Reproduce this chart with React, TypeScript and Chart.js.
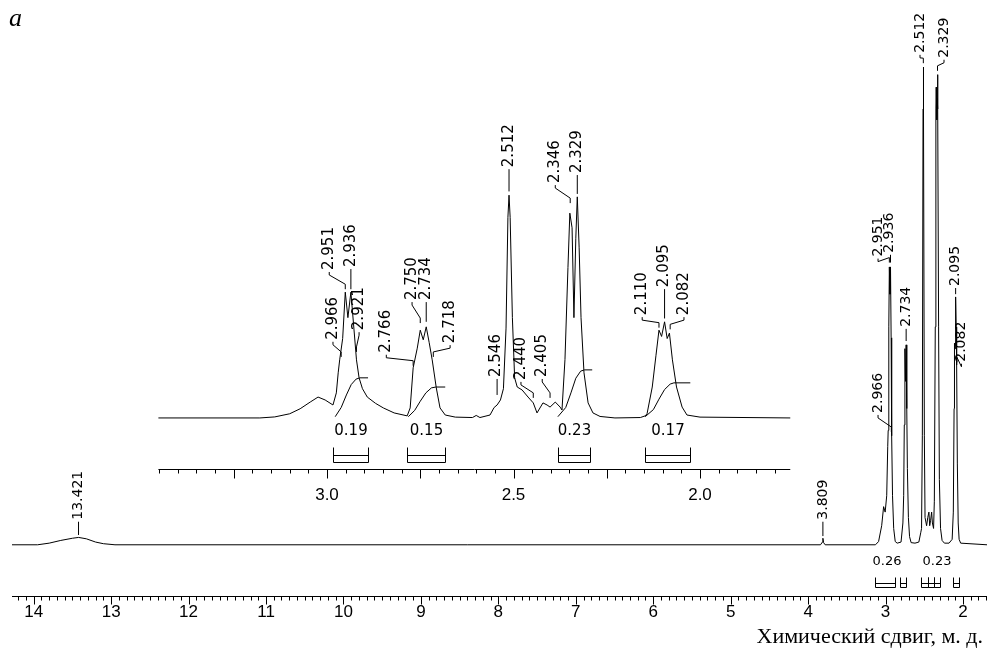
import React, { useEffect, useRef } from 'react';
import { Chart, registerables } from 'chart.js';

Chart.register(...registerables);

// ---------- main spectrum (ppm, relative intensity) ----------
const mainPpm = [14.28, 13.95, 13.8, 13.65, 13.5, 13.42, 13.32, 13.2, 13.1, 12.95,
  3.84, 3.815, 3.809, 3.8, 3.78,
  3.13, 3.09, 3.05, 3.025, 3.005, 2.985, 2.972, 2.966, 2.958, 2.951, 2.943, 2.936, 2.928, 2.921, 2.91, 2.895, 2.875, 2.85,
  2.8, 2.776, 2.766, 2.758, 2.75, 2.742, 2.734, 2.726, 2.718, 2.705, 2.69, 2.67, 2.62,
  2.57, 2.546, 2.535, 2.525, 2.516, 2.512, 2.508, 2.499, 2.49, 2.47, 2.455, 2.44, 2.43, 2.418, 2.405, 2.395, 2.38,
  2.37, 2.358, 2.35, 2.346, 2.338, 2.333, 2.329, 2.324, 2.315, 2.305, 2.29, 2.27, 2.24, 2.18,
  2.14, 2.125, 2.115, 2.11, 2.103, 2.095, 2.088, 2.082, 2.073, 2.062, 2.05, 2.03, 1.69];
const mainInt = [0, 0, 0.3, 0.8, 1.2, 1.35, 1.1, 0.5, 0.2, 0,
  0, 0.5, 1.2, 0.4, 0,
  0, 0.6, 3.5, 7, 6, 9, 18, 21, 40, 51, 46, 51, 38, 20, 9, 3, 0.6, 0.3,
  0.5, 4, 9, 22, 36, 30, 36.7, 25, 14, 5, 1.5, 0.4, 0.3,
  0.5, 2.2, 3, 20, 80, 87.7, 80, 20, 5, 3.5, 5, 6, 3.5, 4.5, 6, 4, 3,
  8, 40, 80, 84, 78, 82, 86.3, 80, 40, 12, 3, 0.8, 0.3, 0.3,
  1, 6, 25, 37, 36, 45.5, 40, 33, 15, 4, 1, 0.3, 0];

// ---------- expanded inset spectrum ----------
const insetPpm = [3.452, 3.18, 3.14, 3.1, 3.072, 3.045, 3.024, 3.005, 2.984, 2.975, 2.97, 2.966, 2.958, 2.951, 2.944, 2.936, 2.928, 2.921, 2.914, 2.905, 2.892, 2.87, 2.849, 2.82, 2.785,
  2.777, 2.769, 2.758, 2.75, 2.742, 2.734, 2.726, 2.718, 2.707, 2.697, 2.683, 2.656, 2.61, 2.6, 2.59,
  2.563, 2.552, 2.544, 2.535, 2.527, 2.52, 2.515, 2.512, 2.509, 2.503, 2.497, 2.49, 2.477, 2.461, 2.447, 2.437, 2.421, 2.41, 2.402, 2.388, 2.375,
  2.37, 2.362, 2.354, 2.349, 2.343, 2.338, 2.333, 2.329, 2.324, 2.319, 2.311, 2.3, 2.287, 2.268, 2.228, 2.16,
  2.147, 2.142, 2.128, 2.118, 2.11, 2.103, 2.095, 2.088, 2.082, 2.074, 2.063, 2.048, 2.035, 2.0, 1.758];
const insetInt = [0, 0, 0.25, 1, 2.2, 3.8, 5, 4.3, 3.1, 6, 10.8, 13.9, 19, 30.1, 24, 30.1, 21.5, 13.9, 9.6, 7, 5, 3.5, 2.4, 1.2, 0.5,
  2.4, 12, 16.7, 21, 18.7, 21.8, 18, 13.9, 7.2, 2.4, 0.7, 0.2, 0.1, 0.6, 0.1,
  0.7, 2.5, 3.1, 4.3, 7, 21.5, 48, 53.3, 48, 24, 9.6, 7.4, 6.7, 5, 3.6, 1.2, 3.6, 3.1, 2.6, 3.8, 2.6,
  1.9, 14, 36, 49, 45.5, 24, 43, 52.9, 40.7, 24, 10.8, 3.6, 1.2, 0.36, 0, 0.1,
  0.5, 1, 7.4, 15, 21, 19.5, 23, 19, 20.3, 13.9, 7.4, 2.6, 0.7, 0.2, 0];

// ---------- integral curves in the inset ----------
const integral1Ppm = [2.978, 2.962, 2.948, 2.935, 2.922, 2.912, 2.89];
const integral1Val = [0.3, 2.5, 5.5, 8, 9.3, 9.6, 9.6];
const integral2Ppm = [2.782, 2.765, 2.75, 2.735, 2.72, 2.708, 2.683];
const integral2Val = [0.3, 1.8, 4, 6, 7.2, 7.4, 7.4];
const integral3Ppm = [2.381, 2.36, 2.346, 2.333, 2.32, 2.31, 2.289];
const integral3Val = [0.3, 2.5, 6, 9.5, 11.2, 11.5, 11.5];
const integral4Ppm = [2.147, 2.125, 2.11, 2.095, 2.08, 2.07, 2.026];
const integral4Val = [0.3, 2.0, 4.5, 6.8, 8.1, 8.4, 8.4];

// ---------- peak labels ----------
const insetLabelText = ['2.966', '2.951', '2.936', '2.921', '2.766', '2.750', '2.734', '2.718', '2.546', '2.512', '2.440', '2.405', '2.346', '2.329', '2.110', '2.095', '2.082'];
const insetLabelPeak = [2.962, 2.951, 2.936, 2.921, 2.769, 2.75, 2.734, 2.715, 2.544, 2.512, 2.447, 2.402, 2.348, 2.329, 2.11, 2.095, 2.08];
const insetLabelPeakVal = [14.6, 30.8, 30.8, 15.8, 12.5, 22.7, 23, 14.6, 5.5, 54.2, 4.8, 4.8, 51.4, 53.6, 21.6, 23.8, 21.2];
const insetLabelTextPpm = [2.984, 2.994, 2.935, 2.914, 2.841, 2.772, 2.734, 2.67, 2.547, 2.512, 2.48, 2.423, 2.388, 2.329, 2.155, 2.095, 2.043];
const insetLabelTextVal = [18.7, 35.4, 36.1, 21, 15.6, 28.2, 28.2, 17.9, 9.8, 60, 9.1, 9.8, 56.2, 58.6, 24.6, 31.3, 24.6];

const mainLabelText = ['13.421', '3.809', '2.966', '2.951', '2.936', '2.734', '2.512', '2.329', '2.095', '2.082'];
const mainLabelPeak = [13.421, 3.809, 2.925, 2.951, 2.936, 2.734, 2.512, 2.329, 2.095, 2.078];
const mainLabelPeakVal = [1.8, 1.6, 20.7, 51.8, 51.8, 37.4, 88.4, 87, 46, 33.5];
const mainLabelTextPpm = [13.421, 3.809, 3.097, 3.097, 2.955, 2.734, 2.555, 2.245, 2.1, 2.02];
const mainLabelTextVal = [4.6, 4.6, 24.2, 52.9, 53.6, 40, 90.3, 89.4, 47.5, 33.6];

// ---------- integration brackets ----------
const insetIntLabels = ['0.19', '0.15', '0.23', '0.17'];
const insetIntFrom = [2.984, 2.785, 2.38, 2.147];
const insetIntTo = [2.89, 2.683, 2.295, 2.026];

const mainIntLabels = ['0.26', '0.23'];
const mainIntLabelPpm = [2.981, 2.335];
const mainIntFrom = [3.136, 2.81, 2.542, 2.452, 2.375, 2.129];
const mainIntTo = [2.878, 2.74, 2.452, 2.375, 2.297, 2.052];

// ---------- axes ----------
const mainTickLabels = [14, 13, 12, 11, 10, 9, 8, 7, 6, 5, 4, 3, 2];
const insetTickLabels = [3.0, 2.5, 2.0];
const axisTitle = 'Химический сдвиг, м. д.';
const panelLetter = 'a';

const MAIN_MIN = 1.69, MAIN_MAX = 14.28;
const INSET_FROM = 3.452, INSET_TO = 1.758;

const pts = (xs: number[], ys: number[]) => xs.map((v, i) => ({ x: v, y: ys[i] }));

const seg = (ctx: CanvasRenderingContext2D, x1: number, y1: number, x2: number, y2: number) => {
  ctx.beginPath(); ctx.moveTo(x1, y1); ctx.lineTo(x2, y2); ctx.stroke();
};

const vText = (ctx: CanvasRenderingContext2D, text: string, x: number, yBottom: number) => {
  ctx.save();
  ctx.translate(x, yBottom);
  ctx.rotate(-Math.PI / 2);
  ctx.textAlign = 'left';
  ctx.textBaseline = 'middle';
  ctx.fillText(text, 0, 0);
  ctx.restore();
};

const leader = (ctx: CanvasRenderingContext2D, tx: number, tb: number, px: number, py: number) => {
  ctx.beginPath();
  if (Math.abs(tx - px) < 1.5) {
    ctx.moveTo(px, tb + 2); ctx.lineTo(px, py);
  } else {
    ctx.moveTo(tx, tb + 2); ctx.lineTo(tx, tb + 5); ctx.lineTo(px, py - 5); ctx.lineTo(px, py);
  }
  ctx.stroke();
};

const annotPlugin = {
  id: 'nmrAnnot',
  afterDatasetsDraw(chart: any) {
    const ctx: CanvasRenderingContext2D = chart.ctx;
    const { x, y, xi, yi } = chart.scales;
    const ca = chart.chartArea;
    ctx.save();
    ctx.strokeStyle = '#000';
    ctx.fillStyle = '#000';
    ctx.lineWidth = 1;

    // main axis
    const axY = Math.round(ca.bottom) + 0.5;
    seg(ctx, x.getPixelForValue(MAIN_MAX), axY, x.getPixelForValue(MAIN_MIN), axY);
    for (let i = 17; i <= 142; i++) {
      const px = Math.round(x.getPixelForValue(i / 10)) + 0.5;
      seg(ctx, px, axY, px, axY + (i % 10 === 0 ? 8 : 4));
    }
    ctx.font = '17px "Liberation Sans", Arial, sans-serif';
    ctx.textAlign = 'center';
    ctx.textBaseline = 'middle';
    mainTickLabels.forEach(v => ctx.fillText(String(v), x.getPixelForValue(v), axY + 16));

    // axis title and panel letter
    ctx.font = '22px "Liberation Serif", "Times New Roman", serif';
    ctx.textAlign = 'right';
    ctx.textBaseline = 'alphabetic';
    ctx.fillText(axisTitle, chart.width - 4, 643);
    ctx.font = 'italic 26px "Liberation Serif", "Times New Roman", serif';
    ctx.textAlign = 'left';
    ctx.fillText(panelLetter, 9, 26);

    // inset axis
    const base = yi.getPixelForValue(0);
    const iaY = Math.round(base + 51) + 0.5;
    seg(ctx, xi.getPixelForValue(INSET_FROM), iaY, xi.getPixelForValue(INSET_TO), iaY);
    for (let i = 36; i <= 69; i++) {
      const v = i * 0.05;
      const px = Math.round(xi.getPixelForValue(v)) + 0.5;
      seg(ctx, px, iaY, px, iaY + (i % 5 === 0 ? 9 : 4));
    }
    ctx.font = '17px "Liberation Sans", Arial, sans-serif';
    ctx.textAlign = 'center';
    ctx.textBaseline = 'middle';
    insetTickLabels.forEach(v => ctx.fillText(v.toFixed(1), xi.getPixelForValue(v), iaY + 26));

    // inset integration brackets
    ctx.font = '15px "DejaVu Sans", sans-serif';
    insetIntLabels.forEach((t, i) => {
      const a = Math.round(xi.getPixelForValue(insetIntFrom[i])) + 0.5;
      const b = Math.round(xi.getPixelForValue(insetIntTo[i])) + 0.5;
      ctx.textAlign = 'center'; ctx.textBaseline = 'middle';
      ctx.fillText(t, (a + b) / 2, base + 13);
      const top = Math.round(base + 29) + 0.5, l1 = Math.round(base + 37) + 0.5, l2 = Math.round(base + 44) + 0.5;
      seg(ctx, a, top, a, l2); seg(ctx, b, top, b, l2);
      seg(ctx, a, l1, b, l1); seg(ctx, a, l2, b, l2);
    });

    // main integration brackets
    const mb = y.getPixelForValue(0);
    ctx.font = '13px "DejaVu Sans", sans-serif';
    mainIntLabels.forEach((t, i) => ctx.fillText(t, x.getPixelForValue(mainIntLabelPpm[i]), mb + 17));
    mainIntFrom.forEach((f, i) => {
      const a = Math.round(x.getPixelForValue(f)) + 0.5;
      const b = Math.round(x.getPixelForValue(mainIntTo[i])) + 0.5;
      const top = Math.round(mb + 32) + 0.5, l1 = Math.round(mb + 38) + 0.5, l2 = Math.round(mb + 42) + 0.5;
      seg(ctx, a, top, a, l2); seg(ctx, b, top, b, l2);
      seg(ctx, a, l1, b, l1); seg(ctx, a, l2, b, l2);
    });

    // inset peak labels
    ctx.font = '15px "DejaVu Sans", sans-serif';
    insetLabelText.forEach((t, i) => {
      const tx = xi.getPixelForValue(insetLabelTextPpm[i]);
      const tb = yi.getPixelForValue(insetLabelTextVal[i]);
      const px = xi.getPixelForValue(insetLabelPeak[i]);
      const py = yi.getPixelForValue(insetLabelPeakVal[i]);
      vText(ctx, t, tx, tb);
      leader(ctx, tx, tb, px, py);
    });

    // main peak labels
    ctx.font = '14px "DejaVu Sans", sans-serif';
    mainLabelText.forEach((t, i) => {
      const tx = x.getPixelForValue(mainLabelTextPpm[i]);
      const tb = y.getPixelForValue(mainLabelTextVal[i]);
      const px = x.getPixelForValue(mainLabelPeak[i]);
      const py = y.getPixelForValue(mainLabelPeakVal[i]);
      vText(ctx, t, tx, tb);
      leader(ctx, tx, tb, px, py);
    });

    ctx.restore();
  },
};

export default function App() {
  const ref = useRef<HTMLCanvasElement | null>(null);
  useEffect(() => {
    if (!ref.current) return;
    const line = (data: any[], xAxisID: string, yAxisID: string) => ({
      data, xAxisID, yAxisID,
      borderColor: '#000', borderWidth: 1, pointRadius: 0, tension: 0, fill: false,
    });
    const chart = new Chart(ref.current, {
      type: 'line',
      data: {
        datasets: [
          line(pts(mainPpm, mainInt), 'x', 'y'),
          line(pts(insetPpm, insetInt), 'xi', 'yi'),
          line(pts(integral1Ppm, integral1Val), 'xi', 'yi'),
          line(pts(integral2Ppm, integral2Val), 'xi', 'yi'),
          line(pts(integral3Ppm, integral3Val), 'xi', 'yi'),
          line(pts(integral4Ppm, integral4Val), 'xi', 'yi'),
        ] as any,
      },
      options: {
        animation: false,
        responsive: false,
        events: [],
        layout: { padding: { left: 12, right: 0, top: 0, bottom: 54 } },
        scales: {
          x: { type: 'linear', min: MAIN_MIN, max: MAIN_MAX, reverse: true, display: false },
          y: { type: 'linear', min: -9.4, max: 100, display: false },
          xi: { type: 'linear', min: 1.2306, max: 3.8445, reverse: true, display: false },
          yi: { type: 'linear', min: -42.6, max: 100, display: false },
        },
        plugins: { legend: { display: false }, tooltip: { enabled: false } },
      } as any,
      plugins: [annotPlugin],
    });
    return () => chart.destroy();
  }, []);
  return (
    <div style={{ position: 'absolute', left: 0, top: 0, width: 987, height: 650, background: '#fff' }}>
      <canvas ref={ref} width={987} height={650} style={{ width: 987, height: 650 }} />
    </div>
  );
}
